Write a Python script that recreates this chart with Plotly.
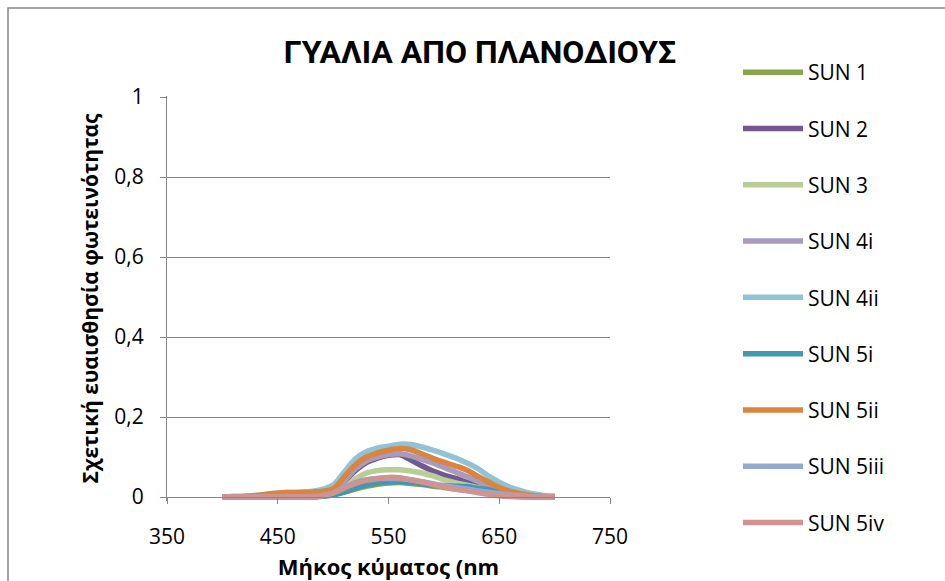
import plotly.graph_objects as go

# Wavelength grid (nm)
wavelength = [400, 410, 420, 430, 440, 450, 460, 470, 480, 490, 500,
              510, 520, 530, 540, 550, 560, 570, 580, 590, 600,
              610, 620, 630, 640, 650, 660, 670, 680, 690, 700]

# Relative luminous sensitivity per sample
sun_1 = [0, 0, 0, 0, 0, 0, 0, 0, 0, 0.002, 0.006,
         0.012, 0.02, 0.027, 0.032, 0.035, 0.036, 0.034, 0.031, 0.027, 0.024,
         0.02, 0.017, 0.013, 0.009, 0.006, 0.003, 0.001, 0, 0, 0]
sun_2 = [0, 0, 0, 0.001, 0.002, 0.003, 0.004, 0.004, 0.005, 0.007, 0.014,
         0.038, 0.066, 0.086, 0.097, 0.104, 0.106, 0.093, 0.078, 0.065, 0.055,
         0.047, 0.037, 0.029, 0.021, 0.014, 0.008, 0.004, 0.002, 0.001, 0]
sun_3 = [0, 0, 0, 0, 0.001, 0.002, 0.002, 0.002, 0.003, 0.005, 0.01,
         0.022, 0.045, 0.06, 0.066, 0.068, 0.068, 0.065, 0.06, 0.053, 0.043,
         0.036, 0.03, 0.024, 0.018, 0.012, 0.007, 0.004, 0.002, 0.001, 0]
sun_4i = [0, 0, 0, 0.001, 0.002, 0.003, 0.004, 0.004, 0.005, 0.007, 0.015,
          0.04, 0.07, 0.09, 0.1, 0.106, 0.108, 0.103, 0.094, 0.085, 0.074,
          0.063, 0.052, 0.04, 0.028, 0.018, 0.011, 0.006, 0.003, 0.001, 0]
sun_4ii = [0, 0.001, 0.002, 0.004, 0.006, 0.009, 0.011, 0.012, 0.014, 0.019, 0.03,
           0.062, 0.095, 0.113, 0.122, 0.127, 0.132, 0.131, 0.125, 0.117, 0.108,
           0.098, 0.086, 0.072, 0.053, 0.037, 0.024, 0.015, 0.008, 0.004, 0.002]
sun_5i = [0, 0, 0, 0, 0, 0, 0, 0, 0, 0.002, 0.005,
          0.012, 0.022, 0.03, 0.035, 0.037, 0.038, 0.036, 0.033, 0.03, 0.028,
          0.027, 0.026, 0.022, 0.018, 0.012, 0.007, 0.004, 0.001, 0, 0]
sun_5ii = [0, 0.001, 0.002, 0.004, 0.007, 0.01, 0.011, 0.011, 0.012, 0.014, 0.02,
           0.05, 0.08, 0.1, 0.11, 0.117, 0.121, 0.118, 0.108, 0.097, 0.087,
           0.078, 0.068, 0.053, 0.038, 0.024, 0.014, 0.008, 0.004, 0.002, 0.001]
sun_5iii = [0, 0, 0, 0, 0, 0, 0, 0, 0, 0.003, 0.01,
            0.024, 0.036, 0.043, 0.046, 0.047, 0.046, 0.043, 0.038, 0.033, 0.028,
            0.024, 0.02, 0.016, 0.012, 0.008, 0.005, 0.003, 0.001, 0, 0]
sun_5iv = [0, 0, 0, 0, 0, 0, 0, 0, 0, 0.003, 0.01,
           0.022, 0.034, 0.042, 0.046, 0.049, 0.048, 0.043, 0.038, 0.031, 0.026,
           0.02, 0.016, 0.011, 0.007, 0.003, 0.001, 0, 0, 0, 0]

series_names = ["SUN 1", "SUN 2", "SUN 3", "SUN 4i", "SUN 4ii",
                "SUN 5i", "SUN 5ii", "SUN 5iii", "SUN 5iv"]
series_values = [sun_1, sun_2, sun_3, sun_4i, sun_4ii,
                 sun_5i, sun_5ii, sun_5iii, sun_5iv]
series_colors = ["#89A54E", "#71588F", "#B9CD96", "#A99BBD", "#8FC3D5",
                 "#4198AF", "#DB843D", "#93A9CF", "#D19392"]

x_ticks = [350, 450, 550, 650, 750]
y_ticks = [0, 0.2, 0.4, 0.6, 0.8, 1]

W, H = 945, 581
ML, MR, MT, MB = 167, 335, 96, 80
Y_MIN, Y_MAX = -0.01, 1.0025
plot_w = W - ML - MR
plot_h = H - MT - MB

fig = go.Figure()
for name, vals, col in zip(series_names, series_values, series_colors):
    fig.add_trace(go.Scatter(
        x=wavelength, y=vals, name=name, mode="lines",
        line=dict(color=col, width=5.5, shape="spline", smoothing=1),
        legendgroup=name,
    ))

axis_grey = "#868686"
tick_font = dict(family="Open Sans", size=21, color="#000000")

fig.update_layout(
    width=W, height=H,
    margin=dict(l=ML, r=MR, t=MT, b=MB, pad=0, autoexpand=False),
    paper_bgcolor="white", plot_bgcolor="white",
    separators=",.",
    title=dict(text="<b>ΓΥΑΛΙΑ ΑΠΟ ΠΛΑΝΟΔΙΟΥΣ</b>",
               font=dict(family="Roboto", size=32, color="#000000"),
               x=480 / W, xanchor="center", xref="container",
               y=1 - 52 / H, yanchor="middle", yref="container"),
    xaxis=dict(range=[350, 750], tickvals=x_ticks, ticks="outside", ticklen=6,
               tickcolor=axis_grey, showline=True, linecolor=axis_grey, linewidth=1,
               showgrid=False, zeroline=False, tickfont=tick_font,
               anchor="free", position=(0 - Y_MIN) / (Y_MAX - Y_MIN),
               ticklabelstandoff=15,
               title=dict(text="<b>Μήκος κύματος (nm</b>",
                          font=dict(family="Open Sans", size=22, color="#000000"),
                          standoff=11)),
    yaxis=dict(range=[Y_MIN, Y_MAX], tickvals=y_ticks, ticks="outside", ticklen=6,
               tickcolor=axis_grey, showline=True, linecolor=axis_grey, linewidth=1,
               showgrid=True, gridcolor=axis_grey, gridwidth=1, zeroline=False,
               tickfont=tick_font, ticklabelstandoff=12,
               title=dict(text="<b>Σχετική ευαισθησία φωτεινότητας</b>",
                          font=dict(family="Open Sans", size=21, color="#000000"),
                          standoff=9)),
    legend=dict(x=738 / W, xanchor="left", xref="container",
                y=1 - 52 / H, yanchor="top", yref="container",
                maxheight=560,
                font=dict(family="Open Sans", size=21, color="#000000"),
                tracegroupgap=26, itemwidth=60, bgcolor="rgba(0,0,0,0)",
                traceorder="grouped"),
    showlegend=True,
)

# Chart-area border
fig.add_shape(type="rect", xref="paper", yref="paper",
              x0=(8 - ML) / plot_w, x1=(W + 10 - ML) / plot_w,
              y0=(H - MB - (H + 10)) / plot_h, y1=(H - MB - 8) / plot_h,
              line=dict(color="#878787", width=1.5), fillcolor="rgba(0,0,0,0)",
              layer="below")

fig.write_html("out.html")
